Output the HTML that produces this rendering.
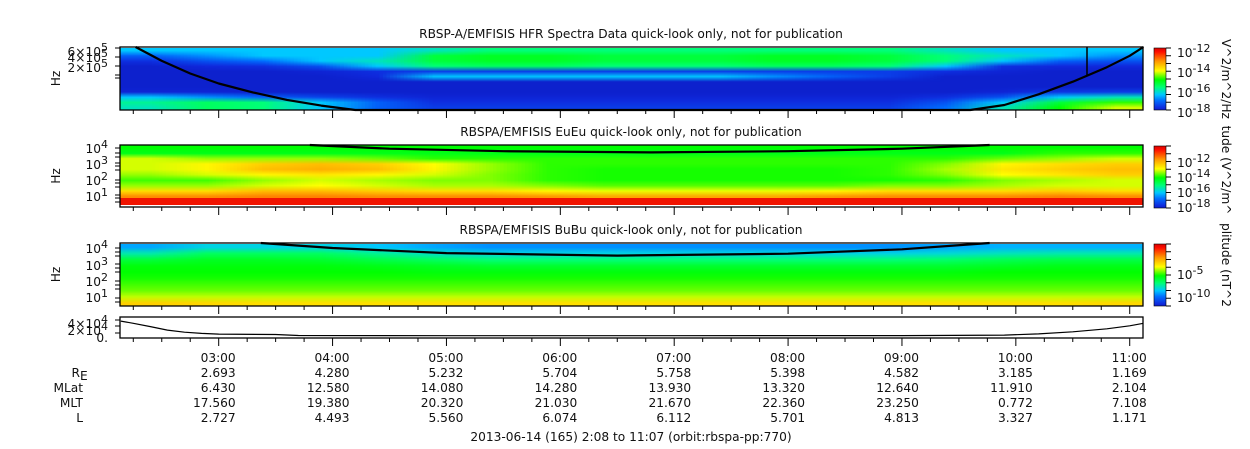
<!DOCTYPE html>
<html><head><meta charset="utf-8"><style>
body{margin:0;background:#fff;width:1250px;height:449px;overflow:hidden;position:relative;font-family:"Liberation Sans","DejaVu Sans",sans-serif}
canvas{position:absolute;image-rendering:auto}
svg{position:absolute;left:0;top:0}
svg text{font-family:"DejaVu Sans","Liberation Sans",sans-serif;font-size:12.2px;fill:#111}
</style></head><body>
<canvas id="h1" width="18" height="12" style="left:120px;top:48px;width:1023px;height:62px"></canvas>
<canvas id="h2" width="18" height="10" style="left:120px;top:145px;width:1023px;height:54px"></canvas>
<div style="position:absolute;left:120px;top:198px;width:1023px;height:7px;background:#f01400"></div>
<canvas id="h3" width="18" height="10" style="left:120px;top:244px;width:1023px;height:62px"></canvas>
<canvas id="cb1" width="1" height="64" style="left:1154px;top:48px;width:12px;height:62px"></canvas>
<canvas id="cb2" width="1" height="64" style="left:1154px;top:146px;width:12px;height:62px"></canvas>
<canvas id="cb3" width="1" height="64" style="left:1154px;top:244px;width:12px;height:62px"></canvas>
<svg id="s" width="1250" height="449"></svg>
<script>
const startH=2+8/60, endH=11+7/60, X0=120, X1=1143;
function xs(h){return X0+(h-startH)/(endH-startH)*(X1-X0);}
const hfrGrid=[
[.3,.3,.3,.3,.3,.35,.4,.4,.4,.4,.4,.4,.4,.4,.35,.3,.3,.3],
[.2,.25,.3,.3,.3,.45,.47,.47,.45,.45,.45,.47,.47,.45,.4,.35,.3,.25],
[.13,.18,.22,.3,.35,.45,.47,.47,.45,.45,.45,.47,.47,.45,.4,.3,.2,.18],
[.1,.12,.13,.18,.3,.4,.42,.42,.4,.4,.4,.42,.42,.4,.3,.13,.12,.12],
[.1,.1,.1,.11,.13,.15,.15,.15,.15,.15,.15,.15,.15,.15,.13,.11,.1,.1],
[.1,.1,.1,.1,.12,.3,.3,.3,.3,.3,.3,.25,.2,.15,.1,.1,.1,.1],
[.1,.1,.1,.1,.1,.1,.1,.1,.1,.1,.1,.1,.1,.1,.1,.1,.1,.1],
[.1,.1,.1,.1,.1,.1,.1,.1,.1,.1,.1,.1,.1,.1,.1,.1,.1,.1],
[.11,.11,.1,.1,.1,.1,.1,.1,.1,.1,.1,.1,.1,.1,.1,.11,.14,.15],
[.3,.25,.2,.16,.13,.11,.11,.11,.11,.11,.11,.11,.11,.11,.13,.18,.3,.35],
[.38,.42,.4,.3,.2,.13,.13,.13,.13,.13,.13,.13,.13,.13,.18,.3,.45,.52],
[.35,.42,.4,.3,.2,.15,.15,.15,.15,.15,.15,.15,.15,.15,.22,.35,.5,.6]];
const euGrid=[
[.5,.5,.5,.5,.5,.5,.5,.5,.5,.5,.5,.5,.5,.5,.5,.5,.5,.5],
[.48,.48,.48,.48,.48,.48,.48,.48,.48,.48,.48,.48,.48,.48,.48,.48,.52,.52],
[.6,.57,.57,.57,.55,.52,.52,.52,.52,.52,.52,.52,.52,.52,.52,.55,.57,.6],
[.6,.63,.68,.7,.68,.62,.57,.52,.52,.52,.52,.52,.52,.52,.56,.63,.66,.68],
[.6,.63,.7,.72,.7,.63,.57,.52,.51,.51,.51,.51,.51,.52,.58,.65,.68,.7],
[.57,.6,.63,.65,.63,.6,.56,.52,.51,.51,.51,.51,.51,.52,.56,.62,.65,.68],
[.53,.53,.57,.6,.58,.56,.56,.52,.51,.51,.51,.51,.51,.51,.52,.56,.58,.6],
[.57,.57,.6,.62,.6,.58,.58,.56,.54,.54,.54,.54,.54,.56,.56,.58,.6,.6],
[.66,.66,.7,.7,.68,.66,.66,.63,.61,.61,.61,.61,.63,.66,.66,.66,.68,.66],
[.76,.76,.77,.77,.76,.76,.76,.75,.73,.73,.73,.73,.75,.76,.76,.76,.77,.76]];
const buGrid=[
[.27,.32,.32,.32,.3,.27,.25,.25,.25,.25,.25,.25,.25,.25,.27,.28,.28,.28],
[.36,.42,.42,.42,.38,.34,.32,.32,.32,.32,.32,.32,.32,.32,.33,.35,.36,.36],
[.45,.47,.47,.46,.44,.42,.4,.4,.4,.4,.4,.4,.4,.4,.41,.43,.44,.44],
[.49,.49,.49,.49,.48,.47,.46,.46,.46,.46,.46,.46,.46,.46,.46,.47,.48,.48],
[.5,.5,.5,.5,.5,.49,.49,.49,.49,.49,.49,.49,.49,.49,.49,.5,.5,.5],
[.51,.51,.51,.51,.51,.51,.51,.51,.51,.51,.51,.51,.51,.51,.51,.51,.51,.51],
[.53,.53,.53,.53,.53,.53,.53,.53,.53,.53,.53,.53,.53,.53,.53,.53,.53,.53],
[.55,.55,.55,.55,.55,.55,.55,.55,.55,.55,.55,.55,.55,.55,.55,.55,.55,.55],
[.59,.59,.59,.59,.59,.59,.59,.59,.59,.59,.59,.59,.59,.59,.59,.59,.59,.59],
[.68,.67,.66,.66,.66,.66,.66,.66,.66,.66,.66,.66,.66,.66,.66,.66,.66,.67]];
const c1Hours=[2.27,2.5,2.75,3.0,3.3,3.6,3.9,4.2,9.6,9.9,10.2,10.5,10.8,11.0,11.12];
const c1Depth=[0,0.22,0.42,0.58,0.72,0.84,0.93,1.0,1.0,0.92,0.75,0.55,0.32,0.14,0];
const c2Hours=[3.8,4.5,5.5,6.8,8.0,9.0,9.77];
const c2Depth=[0,0.06,0.1,0.12,0.1,0.06,0];
const c3Hours=[3.37,4.0,5.0,6.5,8.0,9.0,9.77];
const c3Depth=[0,0.08,0.16,0.2,0.17,0.1,0];
const lineHours=[2.14,2.25,2.4,2.55,2.7,2.85,3.0,3.5,3.7,5,7,9,9.9,10.2,10.5,10.8,11.0,11.12];
const lineVals=[3.5,3.0,2.2,1.4,0.9,0.6,0.45,0.35,0.12,0.08,0.08,0.1,0.2,0.5,1.0,1.7,2.4,3.0];
const tickLabels=["03:00","04:00","05:00","06:00","07:00","08:00","09:00","10:00","11:00"];
const tickHours=[3,4,5,6,7,8,9,10,11];
const rowNames=["R\u2091","MLat","MLT","L"];
const reVals=["2.693","4.280","5.232","5.704","5.758","5.398","4.582","3.185","1.169"];
const mlatVals=["6.430","12.580","14.080","14.280","13.930","13.320","12.640","11.910","2.104"];
const mltVals=["17.560","19.380","20.320","21.030","21.670","22.360","23.250","0.772","7.108"];
const lVals=["2.727","4.493","5.560","6.074","6.112","5.701","4.813","3.327","1.171"];

const cmapStops=[[0,0,0,130],[0.12,16,40,220],[0.22,0,110,255],[0.3,0,200,255],[0.4,0,255,120],[0.5,0,255,0],[0.62,255,255,0],[0.75,255,150,0],[0.88,255,10,0],[1,140,0,0]];
function jet(v){
 v=Math.max(0,Math.min(1,v));
 for(let i=1;i<cmapStops.length;i++){const a=cmapStops[i-1],b=cmapStops[i];if(v<=b[0]){const t=(v-a[0])/(b[0]-a[0]);return [0,1,2].map(k=>Math.round(a[k+1]+(b[k+1]-a[k+1])*t));}}
 return [140,0,0];
}
function paint(id,grid){
 const cv=document.getElementById(id),ctx=cv.getContext('2d');
 const im=ctx.createImageData(grid[0].length,grid.length);
 grid.forEach((row,j)=>row.forEach((v,i)=>{const k=(j*row.length+i)*4,c=jet(v);im.data[k]=c[0];im.data[k+1]=c[1];im.data[k+2]=c[2];im.data[k+3]=255;}));
 ctx.putImageData(im,0,0);
}
paint('h1',hfrGrid);paint('h2',euGrid);paint('h3',buGrid);
['cb1','cb2','cb3'].forEach(id=>{const g=[];for(let j=0;j<64;j++)g.push([0.92-j*0.82/63]);paint(id,g);});

const S=document.getElementById('s'),NS='http://www.w3.org/2000/svg';
function el(t,a,txt){const e=document.createElementNS(NS,t);for(const k in a)e.setAttribute(k,a[k]);if(txt!==undefined)e.textContent=txt;S.appendChild(e);return e;}
const panels=[[47,110],[145,207],[243,306],[317,338]];
const titles=["RBSP-A/EMFISIS  HFR Spectra Data quick-look only, not for publication","RBSPA/EMFISIS  EuEu quick-look only, not for publication","RBSPA/EMFISIS  BuBu quick-look only, not for publication"];
titles.forEach((t,i)=>{const e=el('text',{x:631,y:panels[i][0]-9,'text-anchor':'middle','xml:space':'preserve'},t);});
panels.forEach((p,i)=>{
 const r=el('rect',{x:X0,y:p[0],width:X1-X0,height:p[1]-p[0],fill:'none',stroke:'#000','stroke-width':1.3});
 
 for(let m=Math.ceil(startH*4);m<=endH*4;m++){
  const x=xs(m/4),L=m%4===0?8:4;
  el('line',{x1:x,x2:x,y1:p[1],y2:p[1]+L,stroke:'#000'});
 }
});
function ylab(x,y,base,exp,name){const t=el('text',{x:x,y:y,'text-anchor':'end'});
 const a=document.createElementNS(NS,'tspan');a.textContent=base;t.appendChild(a);
 const b=document.createElementNS(NS,'tspan');b.setAttribute('dy','-5');b.setAttribute('font-size','11');b.textContent=exp;t.appendChild(b);}
ylab(108,56,"6×10","5","ytick-6e5");ylab(108,62,"4×10","5","ytick-4e5");ylab(108,72,"2×10","5","ytick-2e5");
[[153,"4"],[169,"3"],[185,"2"],[201,"1"]].forEach(d=>ylab(108,d[0],"10",d[1],"ytick-eu-"+d[1]));
[[253,"4"],[270,"3"],[286,"2"],[302,"1"]].forEach(d=>ylab(108,d[0],"10",d[1],"ytick-bu-"+d[1]));
ylab(108,328,"4×10","4","ytick-4e4");ylab(108,335,"2×10","4","ytick-2e4");
el('text',{x:108,y:342,'text-anchor':'end'},"0.");
[[48,57,66,75,78],[148,153,157,163,166,170,180,183,187,195,198,202],[248,252,256,264,268,272,281,285,289,298,302],[320,326,333]].forEach(ys=>ys.forEach(y=>el('line',{x1:X0-5,x2:X0,y1:y,y2:y,stroke:'#000'})));
['Hz','Hz','Hz'].forEach((t,i)=>{const c=(panels[i][0]+panels[i][1])/2;const e=el('text',{x:56,y:c+4,transform:`rotate(-90 56 ${c})`,'text-anchor':'middle'},t);});
function curve(hs,ds,p,name){let d='';hs.forEach((h,i)=>{d+=(i?'L':'M')+xs(h).toFixed(1)+','+(p[0]+ds[i]*(p[1]-p[0])).toFixed(1);});const e=el('path',{d:d,fill:'none',stroke:'#000','stroke-width':2.2,'stroke-linejoin':'round'});}
curve(c1Hours,c1Depth,panels[0],'fce-curve-1');curve(c2Hours,c2Depth,panels[1],'fce-curve-2');curve(c3Hours,c3Depth,panels[2],'fce-curve-3');
el('line',{x1:1087,x2:1087,y1:47,y2:76,stroke:'#000','stroke-width':1.5});
{let d='';const yv=v=>336-v/4*17;lineHours.forEach((h,i)=>{d+=(i?'L':'M')+xs(h).toFixed(1)+','+yv(lineVals[i]).toFixed(1);});const e=el('path',{d:d,fill:'none',stroke:'#000','stroke-width':1.2});}
function cbl(y,exp,name){const t=el('text',{x:1177,y:y});const a=document.createElementNS(NS,'tspan');a.textContent='10';t.appendChild(a);const b=document.createElementNS(NS,'tspan');b.setAttribute('dy','-5');b.setAttribute('font-size','11');b.textContent=exp;t.appendChild(b);}
[[53,"-12"],[73,"-14"],[93,"-16"],[113,"-18"]].forEach(d=>cbl(d[0]+4,d[1],'cb1-tick'));
[[163,"-12"],[178,"-14"],[193,"-16"],[208,"-18"]].forEach(d=>cbl(d[0]+4,d[1],'cb2-tick'));
[[275,"-5"],[298,"-10"]].forEach(d=>cbl(d[0]+4,d[1],'cb3-tick'));
[[48,110],[146,208],[244,306]].forEach(p=>{for(let y=p[0];y<=p[1];y+=(p[1]-p[0])/8)el('line',{x1:1166,x2:1171,y1:y,y2:y,stroke:'#000'});el('rect',{x:1154,y:p[0],width:12,height:p[1]-p[0],fill:'none',stroke:'#000','stroke-width':0.6});});
[["V^2/m^2/Hz",79],["tude (V^2/m^",170],["plitude (nT^2",265]].forEach((d,i)=>{const e=el('text',{x:1222,y:d[1],transform:`rotate(90 1222 ${d[1]})`,'text-anchor':'middle'},d[0]);});
tickHours.forEach((h,i)=>{const x=xs(h)+17;
 const e=el('text',{x:x,y:362,'text-anchor':'end'},tickLabels[i]);
 [reVals,mlatVals,mltVals,lVals].forEach((arr,r)=>el('text',{x:x,y:377+r*15,'text-anchor':'end'},arr[i]));
});
el('text',{x:80,y:377,'text-anchor':'end'},"R");el('text',{x:80,y:380,'font-size':'6'},"E");
rowNames.slice(1).forEach((n,r)=>el('text',{x:83,y:392+r*15,'text-anchor':'end'},n));
{const e=el('text',{x:631,y:441,'text-anchor':'middle'},"2013-06-14 (165) 2:08 to 11:07 (orbit:rbspa-pp:770)");}
</script>
</body></html>
